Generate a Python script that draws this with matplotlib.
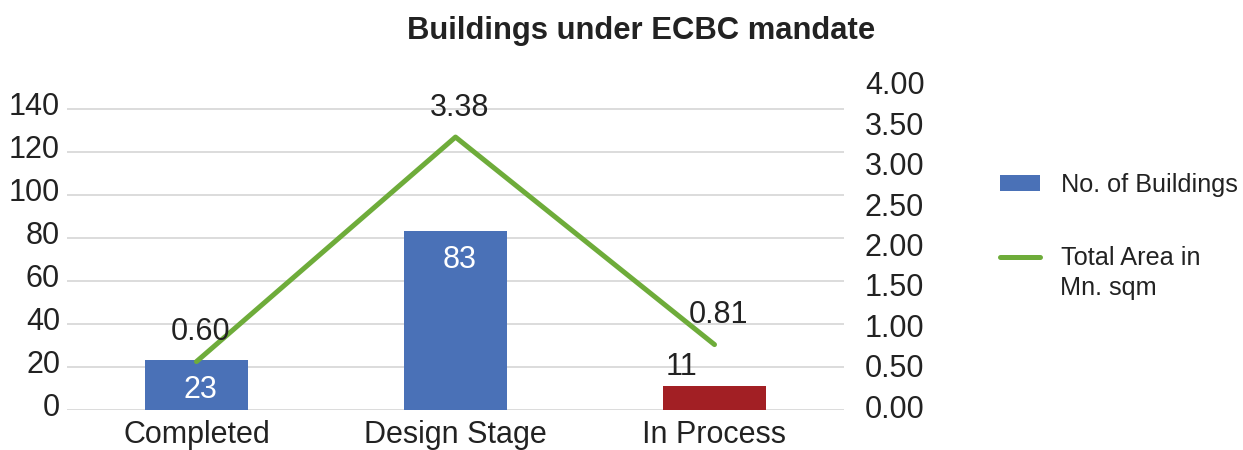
import matplotlib
matplotlib.use("Agg")
import matplotlib.pyplot as plt
from matplotlib.patches import Patch
from matplotlib.lines import Line2D
from matplotlib.transforms import ScaledTranslation
import numpy as np

plt.rcParams['font.family'] = ['Liberation Sans', 'DejaVu Sans']

categories = ["Completed", "Design Stage", "In Process"]
num_buildings = [23, 83, 11]
total_area = [0.60, 3.38, 0.81]
bar_colors = ["#4A71B7", "#4A71B7", "#A21F24"]
line_color = "#6EAC3A"
title = "Buildings under ECBC mandate"
legend_labels = ["No. of Buildings", "Total Area in", "Mn. sqm"]

FS = 22
fig = plt.figure(figsize=(12.43, 4.5), dpi=100)
ax = fig.add_axes([67/1243, 40/450, (844-67)/1243, (410-87)/450])
ax2 = ax.twinx()

x = np.arange(len(categories))
bars = ax.bar(x, num_buildings, width=0.40, color=bar_colors, zorder=2)
ax.set_xlim(-0.5, len(categories) - 0.5)
ax.set_ylim(0, 150)
ax.set_yticks(np.arange(0, 141, 20))
ax.yaxis.grid(True, color="#D9D9D9", linewidth=1.3, zorder=0)
ax.set_axisbelow(True)

ax2.plot(x, total_area, color=line_color, linewidth=3.6, solid_capstyle='round', zorder=3)
ax2.set_ylim(0, 4)
ax2.set_yticks(np.arange(0, 4.01, 0.5))
ax2.set_yticklabels([f"{v:.2f}" for v in np.arange(0, 4.01, 0.5)])

for a in (ax, ax2):
    for s in a.spines.values():
        s.set_visible(False)
    a.tick_params(length=0, labelsize=FS, colors="#222222")
ax.tick_params(axis='y', pad=5)
ax2.tick_params(axis='y', pad=15)
ax.set_xticks(x)
ax.set_xticklabels(categories)
ax.tick_params(axis='x', pad=7.5)

up = ScaledTranslation(0, 5/100, fig.dpi_scale_trans)
for lab in ax.get_yticklabels():
    lab.set_transform(lab.get_transform() + up)
up2 = ScaledTranslation(0, 4/100, fig.dpi_scale_trans)
for lab in ax2.get_yticklabels():
    lab.set_transform(lab.get_transform() + up2)

ax.set_zorder(1)
ax2.set_zorder(2)
ax.patch.set_visible(False)

# bar labels
bar_offsets = [(3, -21), (3, -21), (-24, 14)]
bar_text_colors = ["white", "white", "#222222"]
for xi, v, off, c in zip(x, num_buildings, bar_offsets, bar_text_colors):
    ax.annotate(f"{v}", (xi, v), xytext=off, textcoords="offset points",
                ha="center", va="center", fontsize=FS, color=c, zorder=5)

# line labels
for xi, v in zip(x, total_area):
    ax2.annotate(f"{v:.2f}", (xi, v), xytext=(3, 21), textcoords="offset points",
                 ha="center", va="center", fontsize=FS, color="#222222", zorder=5)

fig.text(641/1243, 1 - 31/450, title, ha="center", va="center",
         fontsize=22.3, fontweight="bold", color="#222222")

handles = [Patch(facecolor="#4A71B7", edgecolor="none"),
           Line2D([0], [0], color=line_color, linewidth=3.6, solid_capstyle='round')]
leg = fig.legend(handles, legend_labels[:2], loc="upper left",
                 bbox_to_anchor=(1000/1243, 1 - 173/450), frameon=False,
                 fontsize=18.2, handlelength=1.6, handleheight=0.55,
                 handletextpad=0.8, labelspacing=1.95, borderpad=0, borderaxespad=0)
for t in leg.get_texts():
    t.set_color("#222222")
fig.text(1060/1243, 1 - 288/450, legend_labels[2], ha="left", va="center",
         fontsize=18.2, color="#222222")

fig.savefig("out.png", dpi=100)
